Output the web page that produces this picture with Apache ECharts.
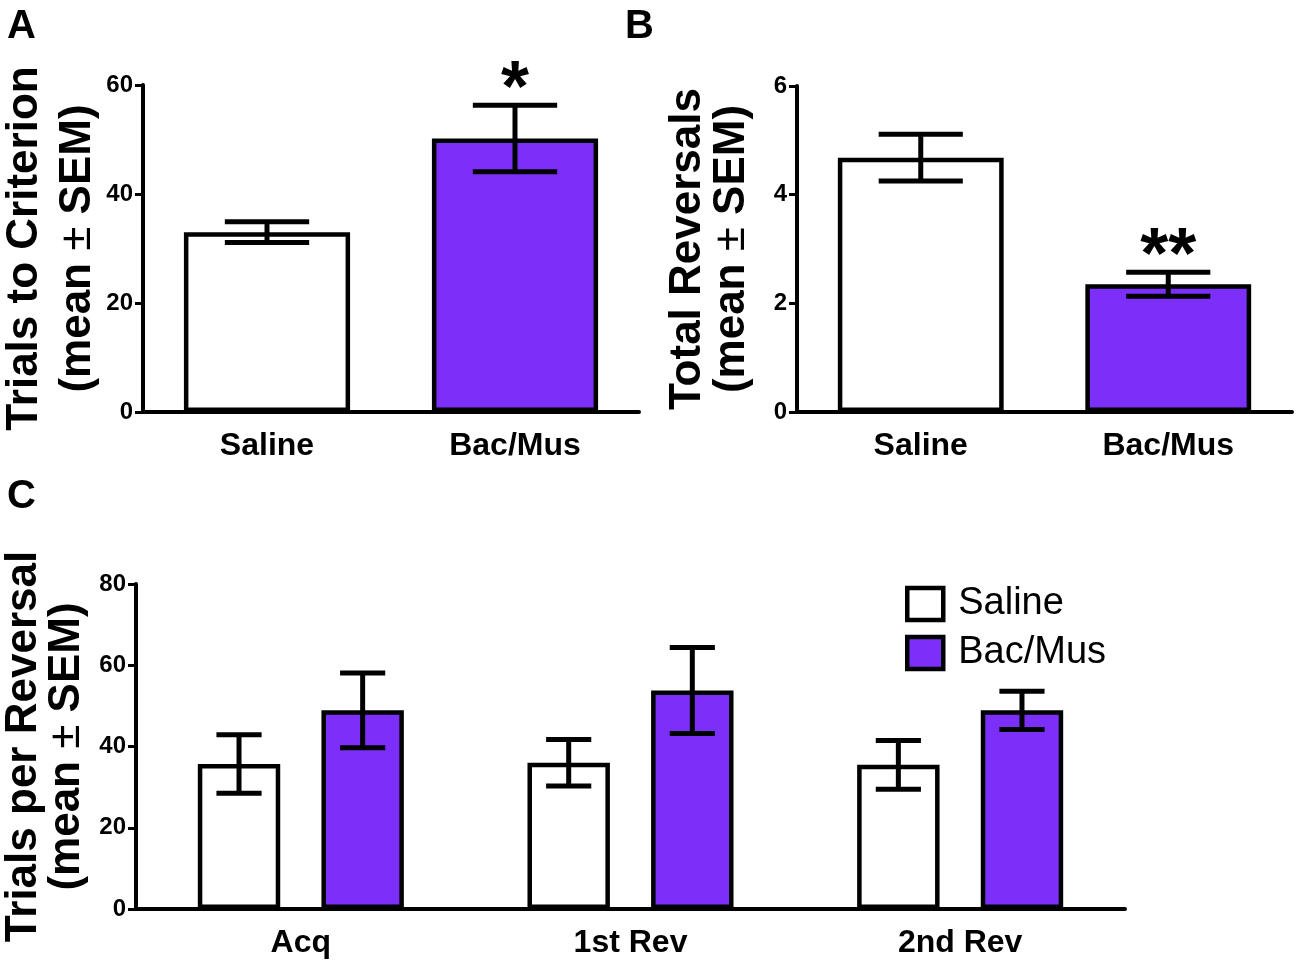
<!DOCTYPE html>
<html>
<head>
<meta charset="utf-8">
<title>Reversal learning</title>
<script src="https://cdn.jsdelivr.net/npm/echarts@6/dist/echarts.min.js"></script>
<style>
  html, body { margin: 0; background: #fff; }
  #main { width: 1300px; height: 970px; }
</style>
</head>
<body>
<div id="main"></div>
<script>
// ---- data ----
var groups = ['Saline', 'Bac/Mus'];

// A: trials to criterion
var critMean = [33.0, 50.2];
var critSem = [1.9, 6.1];
var critSig = ['', '*'];
var critTicks = [0, 20, 40, 60];

// B: total reversals
var revMean = [4.68, 2.35];
var revSem = [0.43, 0.22];
var revSig = ['', '**'];
var revTicks = [0, 2, 4, 6];

// C: trials per reversal
var phases = ['Acq', '1st Rev', '2nd Rev'];
var perRevSaline = [35.7, 36.0, 35.5];
var perRevSalineSem = [7.2, 5.7, 6.0];
var perRevBac = [48.9, 53.8, 48.9];
var perRevBacSem = [9.2, 10.6, 4.7];
var perRevTicks = [0, 20, 40, 60, 80];

var WHITE = '#ffffff';
var PURPLE = '#7b2ff8';
var FONT = '"Liberation Sans", Arial, sans-serif';

var myChart = echarts.init(document.getElementById('main'));

function yAxisFor(grid, ticks, name, gap, l1, l2) {
  return {
    type: 'value', gridIndex: grid,
    min: ticks[0], max: ticks[ticks.length - 1], interval: ticks[1] - ticks[0],
    name: name, nameLocation: 'middle', nameRotate: 90, nameGap: gap,
    nameTextStyle: {
      rich: {
        t: { fontFamily: FONT, fontWeight: 'bold', fontSize: 44, lineHeight: l1, color: '#000' },
        s: { fontFamily: FONT, fontWeight: 'bold', fontSize: 44, lineHeight: l2, color: '#000' },
        pm: { fontFamily: FONT, fontWeight: 'normal', fontSize: 44, lineHeight: l2, color: '#000' }
      }
    },
    axisLine: { show: true, lineStyle: { color: '#000', width: 4 } },
    axisTick: { show: true, length: 8, lineStyle: { color: '#000', width: 3 } },
    axisLabel: { color: '#000', fontFamily: FONT, fontWeight: 'bold', fontSize: 24, margin: 10 },
    splitLine: { show: false }
  };
}

function xAxisFor(grid, cats) {
  return {
    type: 'category', gridIndex: grid, data: cats,
    axisLine: { lineStyle: { color: '#000', width: 4 } },
    axisTick: { alignWithLabel: true, length: 11, lineStyle: { color: '#000', width: 3 } },
    axisLabel: { color: '#000', fontFamily: FONT, fontWeight: 'bold', fontSize: 32, margin: 18 }
  };
}

// error bar (mean +/- sem) with optional significance stars above it
function errorSeries(grid, mean, sem, sig, offset, cap) {
  return {
    type: 'custom', xAxisIndex: grid, yAxisIndex: grid, z: 5, clip: false,
    data: mean.map(function (m, i) { return [i, m, sem[i]]; }),
    renderItem: function (params, api) {
      var i = params.dataIndex;
      var band = api.size([1, 0])[0];
      var x = api.coord([i, 0])[0] + band * offset;
      var m = api.value(1), e = api.value(2);
      var hi = api.coord([i, m + e])[1];
      var lo = api.coord([i, m - e])[1];
      var half = band * cap / 2;
      var st = { stroke: '#000', lineWidth: 5 };
      var kids = [
        { type: 'line', shape: { x1: x, y1: hi, x2: x, y2: lo }, style: st },
        { type: 'line', shape: { x1: x - half, y1: hi, x2: x + half, y2: hi }, style: st },
        { type: 'line', shape: { x1: x - half, y1: lo, x2: x + half, y2: lo }, style: st }
      ];
      if (sig && sig[i]) {
        kids.push({ type: 'text', style: {
          text: sig[i], x: x, y: hi - 14, align: 'center', verticalAlign: 'middle',
          font: 'bold 72px ' + FONT, fill: '#000'
        } });
      }
      return { type: 'group', children: kids };
    }
  };
}

var option = {
  backgroundColor: '#fff',
  animation: false,
  grid: [
    { left: 143, top: 85, width: 496, height: 327, outerBoundsMode: 'none' },
    { left: 797, top: 86, width: 495, height: 326, outerBoundsMode: 'none' },
    { left: 136, top: 584, width: 989, height: 325, outerBoundsMode: 'none' }
  ],
  xAxis: [xAxisFor(0, groups), xAxisFor(1, groups), xAxisFor(2, phases)],
  yAxis: [
    yAxisFor(0, critTicks, '{t|Trials to Criterion}\n{s|(mean }{pm|±}{s| SEM)}', 36, 48, 58),
    yAxisFor(1, revTicks, '{t|Total Reversals}\n{s|(mean }{pm|±}{s| SEM)}', 41, 40, 48),
    yAxisFor(2, perRevTicks, '{t|Trials per Reversal}\n{s|(mean }{pm|±}{s| SEM)}', 43, 40, 46)
  ],
  legend: {
    orient: 'vertical', left: 900, top: 580,
    itemWidth: 36, itemHeight: 32, itemGap: 11,
    icon: 'rect',
    itemStyle: { borderColor: '#000', borderWidth: 4.5 },
    data: ['Saline', 'Bac/Mus'],
    textStyle: { color: '#000', fontFamily: FONT, fontSize: 38, padding: [0, 0, 0, 10] }
  },
  graphic: [
    { type: 'text', left: 7, top: 7, style: { text: 'A', font: 'bold 40px ' + FONT, fill: '#000' } },
    { type: 'text', left: 625, top: 7, style: { text: 'B', font: 'bold 40px ' + FONT, fill: '#000' } },
    { type: 'text', left: 7, top: 477, style: { text: 'C', font: 'bold 40px ' + FONT, fill: '#000' } }
  ],
  series: [
    {
      type: 'bar', xAxisIndex: 0, yAxisIndex: 0, barWidth: '67%',
      data: critMean.map(function (v, i) { return { value: v, itemStyle: { color: i ? PURPLE : WHITE } }; }),
      itemStyle: { borderColor: '#000', borderWidth: 4.5 }
    },
    errorSeries(0, critMean, critSem, critSig, 0, 0.34),
    {
      type: 'bar', xAxisIndex: 1, yAxisIndex: 1, barWidth: '67%',
      data: revMean.map(function (v, i) { return { value: v, itemStyle: { color: i ? PURPLE : WHITE } }; }),
      itemStyle: { borderColor: '#000', borderWidth: 4.5 }
    },
    errorSeries(1, revMean, revSem, revSig, 0, 0.34),
    {
      name: 'Saline', type: 'bar', xAxisIndex: 2, yAxisIndex: 2,
      barWidth: '25%', barGap: '50%', data: perRevSaline,
      itemStyle: { color: WHITE, borderColor: '#000', borderWidth: 4.5 }
    },
    {
      name: 'Bac/Mus', type: 'bar', xAxisIndex: 2, yAxisIndex: 2,
      barWidth: '25%', barGap: '50%', data: perRevBac,
      itemStyle: { color: PURPLE, borderColor: '#000', borderWidth: 4.5 }
    },
    errorSeries(2, perRevSaline, perRevSalineSem, null, -0.1875, 0.137),
    errorSeries(2, perRevBac, perRevBacSem, null, 0.1875, 0.137)
  ]
};

myChart.setOption(option);
</script>
</body>
</html>
